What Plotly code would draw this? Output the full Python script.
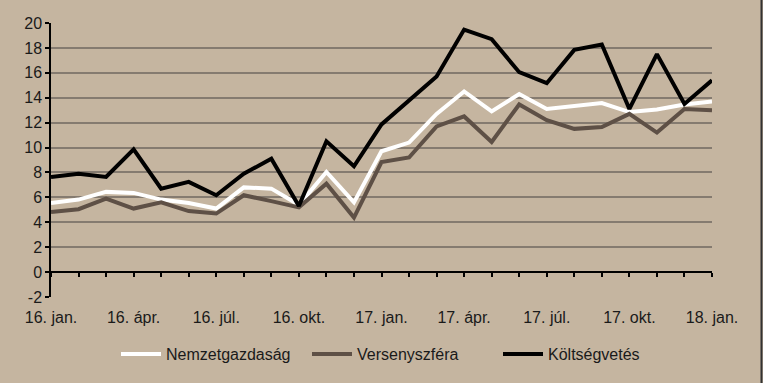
import plotly.graph_objects as go

months = ["16. jan.", "16. febr.", "16. márc.", "16. ápr.", "16. máj.", "16. jún.",
          "16. júl.", "16. aug.", "16. szept.", "16. okt.", "16. nov.", "16. dec.",
          "17. jan.", "17. febr.", "17. márc.", "17. ápr.", "17. máj.", "17. jún.",
          "17. júl.", "17. aug.", "17. szept.", "17. okt.", "17. nov.", "17. dec.",
          "18. jan."]
tick_labels = ["16. jan.", "16. ápr.", "16. júl.", "16. okt.", "17. jan.",
               "17. ápr.", "17. júl.", "17. okt.", "18. jan."]
y_ticks = [-2, 0, 2, 4, 6, 8, 10, 12, 14, 16, 18, 20]

nemzetgazdasag = [5.55, 5.82, 6.44, 6.36, 5.82, 5.55, 5.1, 6.8, 6.7, 5.4, 8.04, 5.6,
                  9.7, 10.4, 12.7, 14.5, 12.9, 14.3, 13.1, 13.3, 13.57, 12.85, 13.06, 13.46, 13.7]
versenyszfera = [4.83, 5.05, 5.9, 5.1, 5.6, 4.9, 4.7, 6.17, 5.7, 5.2, 7.1, 4.38,
                 8.84, 9.2, 11.7, 12.5, 10.45, 13.46, 12.2, 11.5, 11.65, 12.7, 11.2, 13.1, 13.0]
koltsegvetes = [7.64, 7.9, 7.64, 9.86, 6.7, 7.24, 6.17, 7.9, 9.1, 5.3, 10.5, 8.5,
                11.86, 13.8, 15.7, 19.47, 18.7, 16.05, 15.17, 17.84, 18.27, 13.1, 17.5, 13.5, 15.4]

BG = "#C5B5A0"
GRID = "#857B70"
FONT = "Liberation Sans, Arial, sans-serif"
FS = 16

idx = list(range(len(months)))
tickvals = idx
ticktext = [m if m in tick_labels else "" for m in months]

fig = go.Figure()
fig.add_trace(go.Scatter(x=idx, y=nemzetgazdasag, mode="lines", name="Nemzetgazdaság",
                         line=dict(color="#FFFFFF", width=4)))
fig.add_trace(go.Scatter(x=idx, y=versenyszfera, mode="lines", name="Versenyszféra",
                         line=dict(color="#5E5046", width=4)))
fig.add_trace(go.Scatter(x=idx, y=koltsegvetes, mode="lines", name="Költségvetés",
                         line=dict(color="#000000", width=4)))

fig.update_layout(
    width=763, height=383,
    margin=dict(l=51, r=51, t=23, b=86),
    paper_bgcolor=BG, plot_bgcolor=BG,
    font=dict(family=FONT, size=FS, color="#1A1A1A"),
    showlegend=True,
    legend=dict(orientation="h", x=(116 - 51) / 661, xanchor="left", y=-0.208, yanchor="middle",
                font=dict(size=FS, color="#1A1A1A"), bgcolor="rgba(0,0,0,0)",
                itemwidth=40, traceorder="normal", entrywidth=136),
    xaxis=dict(range=[0, len(months) - 1], tickmode="array", tickvals=tickvals,
               ticktext=ticktext, showgrid=False, zeroline=False,
               anchor="free", position=2 / 22, showline=True, linecolor="#000000",
               linewidth=1.5, ticks="outside", ticklen=4, tickwidth=1.5,
               tickcolor="#000000", ticklabelstandoff=27,
               tickfont=dict(size=FS)),
    yaxis=dict(range=[-2, 20], tickmode="array", tickvals=y_ticks,
               ticktext=[str(v) for v in y_ticks],
               showgrid=True, gridcolor=GRID, gridwidth=2, zeroline=False,
               showline=True, linecolor="#000000", linewidth=1.5,
               ticks="outside", ticklen=4, tickwidth=1.5, tickcolor="#000000",
               tickfont=dict(size=FS)),
    shapes=[dict(type="line", xref="paper", yref="paper",
                 x0=(761.5 - 51) / 661, x1=(761.5 - 51) / 661, y0=-86 / 274, y1=(274 + 23) / 274,
                 line=dict(color="#333333", width=2))],
)

fig.write_html("out.html", config={"displayModeBar": False},
               post_script="document.body.style.margin='0';document.body.style.background='" + BG + "';")
